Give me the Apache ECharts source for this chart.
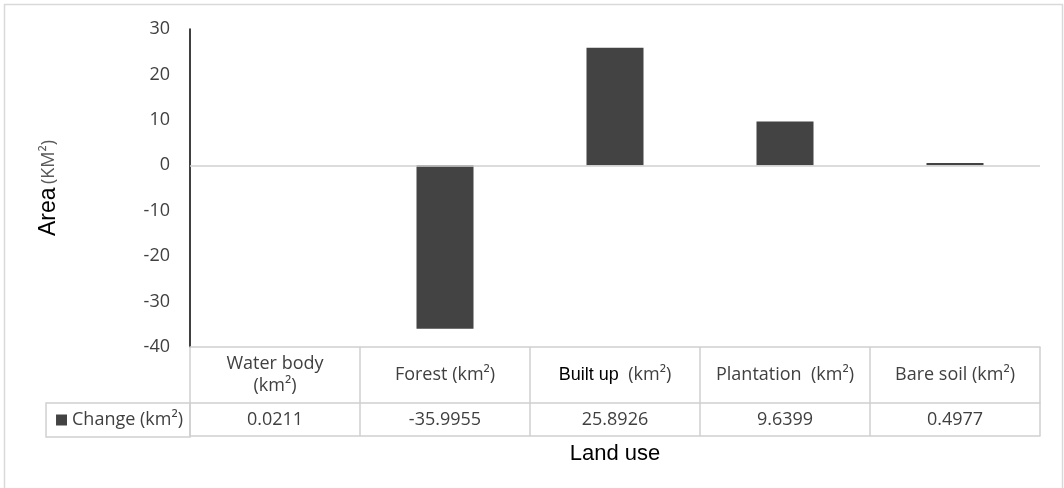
<!DOCTYPE html>
<html>
<head>
<meta charset="utf-8">
<script src="https://cdn.jsdelivr.net/npm/echarts@6/dist/echarts.min.js"></script>
<style>
  html, body { margin: 0; padding: 0; background: #ffffff; }
  #chart { width: 1064px; height: 488px; }
</style>
</head>
<body>
<div id="chart"></div>
<script>
// Land use categories and their area change (km²)
const categories = ['Water body\n(km²)', 'Forest (km²)', 'Built up  (km²)', 'Plantation  (km²)', 'Bare soil (km²)'];
const changes = [0.0211, -35.9955, 25.8926, 9.6399, 0.4977];
const seriesName = 'Change (km²)';
const yTicks = { min: -40, max: 30, interval: 10 };

const gridColor = '#d0d0d0';
const textColor = '#404040';
const bodyFont = 'Open Sans';
const titleFont = 'Liberation Sans';

const chart = echarts.init(document.getElementById('chart'), null, { renderer: 'canvas' });

chart.setOption({
  animation: false,
  backgroundColor: '#ffffff',
  graphic: [{
    type: 'rect',
    shape: { x: 4.5, y: 4.5, width: 1058, height: 520 },
    style: { fill: 'none', stroke: '#d9d9d9', lineWidth: 1.5 },
    silent: true
  }],
  grid: { left: 190, right: 24, top: 29, bottom: 141, containLabel: false },
  legend: {
    data: [seriesName],
    right: 874,
    top: 403,
    icon: 'rect',
    itemWidth: 11,
    itemHeight: 11,
    padding: [8, 7, 8, 10],
    borderColor: gridColor,
    borderWidth: 1.5,
    selectedMode: false,
    textStyle: { fontFamily: bodyFont, fontSize: 18, color: textColor, lineHeight: 17 }
  },
  xAxis: [
    {
      // category header row of the data table
      type: 'category',
      data: categories,
      position: 'bottom',
      axisLine: { show: true, onZero: false, lineStyle: { color: gridColor, width: 1.5 } },
      axisTick: { show: true, interval: 0, length: 89, lineStyle: { color: gridColor, width: 1.5 } },
      axisLabel: {
        interval: 0,
        margin: 28,
        verticalAlign: 'middle',
        fontFamily: bodyFont,
        fontSize: 18,
        lineHeight: 22,
        color: textColor,
        formatter: function (v) {
          if (v.indexOf('Built up') === 0) {
            return '{b|Built up}' + v.slice('Built up'.length);
          }
          return v;
        },
        rich: {
          b: { fontFamily: titleFont, fontSize: 18, color: '#000000' }
        }
      },
      splitLine: { show: false }
    },
    {
      // value row of the data table
      type: 'category',
      data: changes.map(v => v.toFixed(4)),
      position: 'bottom',
      offset: 56,
      axisLine: { show: true, onZero: false, lineStyle: { color: gridColor, width: 1.5 } },
      axisTick: { show: false },
      axisLabel: {
        interval: 0,
        margin: 16.5,
        verticalAlign: 'middle',
        fontFamily: bodyFont,
        fontSize: 18,
        color: textColor
      },
      splitLine: { show: false }
    },
    {
      // bottom edge of the table and the axis title
      type: 'category',
      data: categories,
      position: 'bottom',
      offset: 89,
      name: 'Land use',
      nameLocation: 'middle',
      nameGap: 7,
      nameTextStyle: { fontFamily: titleFont, fontSize: 22, color: '#000000', verticalAlign: 'top' },
      axisLine: { show: true, onZero: false, lineStyle: { color: gridColor, width: 1.5 } },
      axisTick: { show: false },
      axisLabel: { show: false },
      splitLine: { show: false }
    }
  ],
  yAxis: {
    type: 'value',
    min: yTicks.min,
    max: yTicks.max,
    interval: yTicks.interval,
    name: '{a|Area} {b|(KM²)}',
    nameLocation: 'middle',
    nameGap: 130,
    nameTextStyle: {
      rich: {
        a: { fontFamily: titleFont, fontSize: 23, color: '#000000' },
        b: { fontFamily: bodyFont, fontSize: 18, color: '#595959' }
      }
    },
    axisLine: { show: true, lineStyle: { color: '#000000', width: 1.5 } },
    axisTick: { show: false },
    splitLine: { show: false },
    axisLabel: { fontFamily: bodyFont, fontSize: 18, color: textColor, margin: 20 }
  },
  series: [{
    name: seriesName,
    type: 'bar',
    data: changes,
    barWidth: 57,
    itemStyle: { color: '#434343' },
    markLine: {
      silent: true,
      symbol: ['none', 'none'],
      label: { show: false },
      lineStyle: { color: gridColor, width: 1.5, type: 'solid' },
      data: [{ yAxis: 0 }]
    }
  }]
});
</script>
</body>
</html>
